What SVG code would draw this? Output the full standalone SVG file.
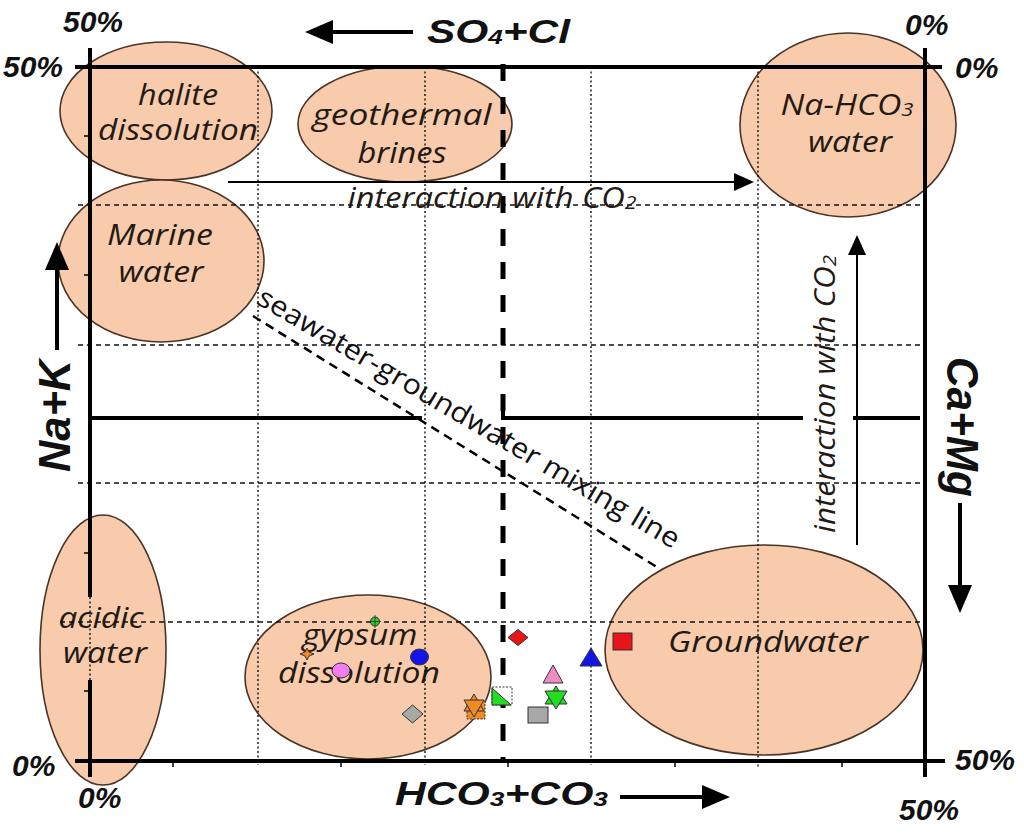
<svg xmlns="http://www.w3.org/2000/svg" width="1024" height="838" viewBox="0 0 1024 838">
<defs>
<style>
.el{fill:#f8cbad;stroke:#4a3426;stroke-width:1.6}
.lbl{font-family:"Open Sans","DejaVu Sans",sans-serif;font-style:italic;font-size:29px;fill:#231a14;text-anchor:middle}
.ax{font-family:"Liberation Sans",Arial,sans-serif;font-style:italic;font-weight:bold;fill:#111}
.pct{font-size:30px}
.grid{stroke:#111;stroke-width:1.4;fill:none}
.gv{stroke-dasharray:2,2.5}
.gh{stroke-dasharray:5,4}
.frame{stroke:#000;stroke-width:4;fill:none}
.arr{stroke:#000;stroke-width:4;fill:none}
.thin{stroke:#000;stroke-width:2;fill:none}
.pt{stroke:#333;stroke-width:1}
</style>
<marker id="bigHead" markerUnits="userSpaceOnUse" markerWidth="30" markerHeight="26" refX="0" refY="12" orient="auto">
<path d="M0,0 L28,12 L0,24 z" fill="#000"/>
</marker>
<marker id="smallHead" markerUnits="userSpaceOnUse" markerWidth="22" markerHeight="20" refX="0" refY="9" orient="auto">
<path d="M0,0 L20,9 L0,18 z" fill="#000"/>
</marker>
</defs>
<rect width="1024" height="838" fill="#fff"/>

<g id="halite">
<ellipse class="el" cx="166" cy="111" rx="106" ry="69"/>
<text class="lbl" x="178" y="105" textLength="80" lengthAdjust="spacingAndGlyphs">halite</text>
<text class="lbl" x="178" y="140" textLength="160" lengthAdjust="spacingAndGlyphs">dissolution</text>
</g>
<g id="geothermal">
<ellipse class="el" cx="405" cy="124" rx="107" ry="58"/>
<text class="lbl" x="402" y="125" textLength="179" lengthAdjust="spacingAndGlyphs">geothermal</text>
<text class="lbl" x="402" y="163" textLength="89" lengthAdjust="spacingAndGlyphs">brines</text>
</g>
<g id="nahco3">
<ellipse class="el" cx="848" cy="125" rx="108" ry="92"/>
<text class="lbl" x="847" y="115" textLength="133" lengthAdjust="spacingAndGlyphs">Na-HCO<tspan font-size="19" dy="1">3</tspan></text>
<text class="lbl" x="850" y="152" textLength="84" lengthAdjust="spacingAndGlyphs">water</text>
</g>
<g id="marine">
<ellipse class="el" cx="161" cy="261" rx="103" ry="81"/>
<text class="lbl" x="160" y="245" textLength="106" lengthAdjust="spacingAndGlyphs">Marine</text>
<text class="lbl" x="161" y="282" textLength="85" lengthAdjust="spacingAndGlyphs">water</text>
</g>
<g id="acidic">
<ellipse class="el" cx="103" cy="650" rx="63" ry="135"/>
<text class="lbl" x="101" y="628" textLength="85" lengthAdjust="spacingAndGlyphs">acidic</text>
<text class="lbl" x="105" y="663" textLength="84" lengthAdjust="spacingAndGlyphs">water</text>
</g>
<g id="gypsum">
<ellipse class="el" cx="368" cy="677" rx="123" ry="82"/>
<text class="lbl" x="360" y="645" textLength="115" lengthAdjust="spacingAndGlyphs">gypsum</text>
<text class="lbl" x="359" y="683" textLength="162" lengthAdjust="spacingAndGlyphs">dissolution</text>
</g>
<g id="groundwater">
<ellipse class="el" cx="764" cy="650" rx="159" ry="105"/>
<text class="lbl" x="768" y="652" textLength="200" lengthAdjust="spacingAndGlyphs">Groundwater</text>
</g>

<g id="grid">
<path class="grid gv" d="M258,67V765 M425,67V765 M591,67V765 M758,67V768"/>
<path class="grid gh" d="M78,205H925 M78,345H925 M78,483H925 M60,622H925"/>
<path class="grid gv" d="M90,597V680"/>
</g>

<g id="frame">
<path class="frame" d="M75,67H942 M75,761H945 M90,48V597 M90,680V777 M925,48V777"/>
<path class="frame" d="M90,418H422 M503,410V418H803 M853,418H920"/>
<path d="M503,64V762" stroke="#000" stroke-width="5" stroke-dasharray="17,16" fill="none"/>
<path stroke="#000" stroke-width="1.5" d="M84,136H90 M84,275H90 M84,553H90 M84,691H90 M173,761V767 M341,761V767 M508,761V767 M675,761V767 M842,761V767"/>
</g>

<g id="connectors">
<line class="arr" x1="413" y1="32" x2="333" y2="32" marker-end="url(#bigHead)"/>
<line class="arr" x1="620" y1="797" x2="702" y2="797" marker-end="url(#bigHead)"/>
<line class="arr" x1="57" y1="350" x2="57" y2="270" marker-end="url(#bigHead)"/>
<line class="arr" x1="960" y1="503" x2="960" y2="585" marker-end="url(#bigHead)"/>
<line class="thin" x1="228" y1="182" x2="734" y2="182" marker-end="url(#smallHead)"/>
<line class="thin" x1="857" y1="545" x2="857" y2="255" marker-end="url(#smallHead)"/>
<line x1="253" y1="316" x2="660" y2="569" stroke="#000" stroke-width="2.5" stroke-dasharray="9,6"/>
</g>

<g id="connector-labels">
<text class="lbl" x="492" y="208" textLength="289" lengthAdjust="spacingAndGlyphs">interaction with CO<tspan font-size="19" dy="1">2</tspan></text>
<text class="lbl" x="835" y="394" transform="rotate(-90 835 394)" textLength="278" lengthAdjust="spacingAndGlyphs">interaction with CO<tspan font-size="19" dy="1">2</tspan></text>
<text x="255" y="303" transform="rotate(30.5 255 303)" font-family="Open Sans, DejaVu Sans, sans-serif" font-size="28" fill="#111" textLength="485" lengthAdjust="spacingAndGlyphs">seawater-groundwater mixing line</text>
</g>

<g id="points">
<circle class="pt" cx="375" cy="621.5" r="4.5" fill="#2ecc2e"/>
<path d="M375,615V628 M369,621.5H381" stroke="#333" stroke-width="0.8"/>
<polygon class="pt" points="307,648 309,652 314,654 309,656 307,660 305,656 300,654 305,652" fill="#f08a24"/>
<ellipse class="pt" cx="419.5" cy="657" rx="9" ry="8" fill="#1414e6"/>
<ellipse class="pt" cx="341" cy="670.5" rx="9" ry="7.5" fill="#f07ef0"/>
<polygon class="pt" points="412.5,705 423,714 412.5,723 402,714" fill="#a8a8a8"/>
<rect class="pt" x="467" y="701" width="18" height="18" fill="#f08a24" stroke-dasharray="2,1.5"/>
<polygon class="pt" points="474,694 484,711 464,711" fill="#f08a24"/>
<polygon class="pt" points="464,700 484,700 474,717" fill="#f08a24"/>
<rect x="492" y="687" width="20" height="18" fill="#fff" stroke="#333" stroke-width="1" stroke-dasharray="2,1.5"/>
<polygon class="pt" points="492,688 492,705 511,705" fill="#22dd22"/>
<polygon class="pt" points="518,629.5 528,637.5 518,645.5 508,637.5" fill="#e8141a"/>
<rect class="pt" x="613" y="633" width="19" height="17" fill="#e8141a"/>
<polygon class="pt" points="591,648 602,666 580,666" fill="#1414e6"/>
<polygon class="pt" points="553,665 563,683 543,683" fill="#f08cc0"/>
<polygon class="pt" points="556,686 567,704 545,704" fill="#22dd22"/>
<polygon class="pt" points="545,691 567,691 556,709" fill="#22dd22"/>
<rect class="pt" x="528" y="707" width="20" height="16" fill="#a8a8a8"/>
</g>

<g id="axis-labels">
<text class="ax" x="427" y="43" font-size="34" textLength="143" lengthAdjust="spacingAndGlyphs">SO<tspan font-size="21" dy="1">4</tspan><tspan dy="-1">+Cl</tspan></text>
<text class="ax" x="395" y="805" font-size="34" textLength="213" lengthAdjust="spacingAndGlyphs">HCO<tspan font-size="21" dy="1">3</tspan><tspan dy="-1">+CO</tspan><tspan font-size="21" dy="1">3</tspan></text>
<text class="ax" x="70" y="416" font-size="44" text-anchor="middle" transform="rotate(-90 70 416)" textLength="112" lengthAdjust="spacingAndGlyphs">Na+K</text>
<text class="ax" x="947" y="427" font-size="44" text-anchor="middle" transform="rotate(90 947 427)" textLength="140" lengthAdjust="spacingAndGlyphs">Ca+Mg</text>
<text class="ax pct" x="63" y="32">50%</text>
<text class="ax pct" x="3" y="77">50%</text>
<text class="ax pct" x="905" y="35">0%</text>
<text class="ax pct" x="955" y="78">0%</text>
<text class="ax pct" x="12" y="776">0%</text>
<text class="ax pct" x="78" y="808">0%</text>
<text class="ax pct" x="955" y="770">50%</text>
<text class="ax pct" x="899" y="820">50%</text>
</g>
</svg>
